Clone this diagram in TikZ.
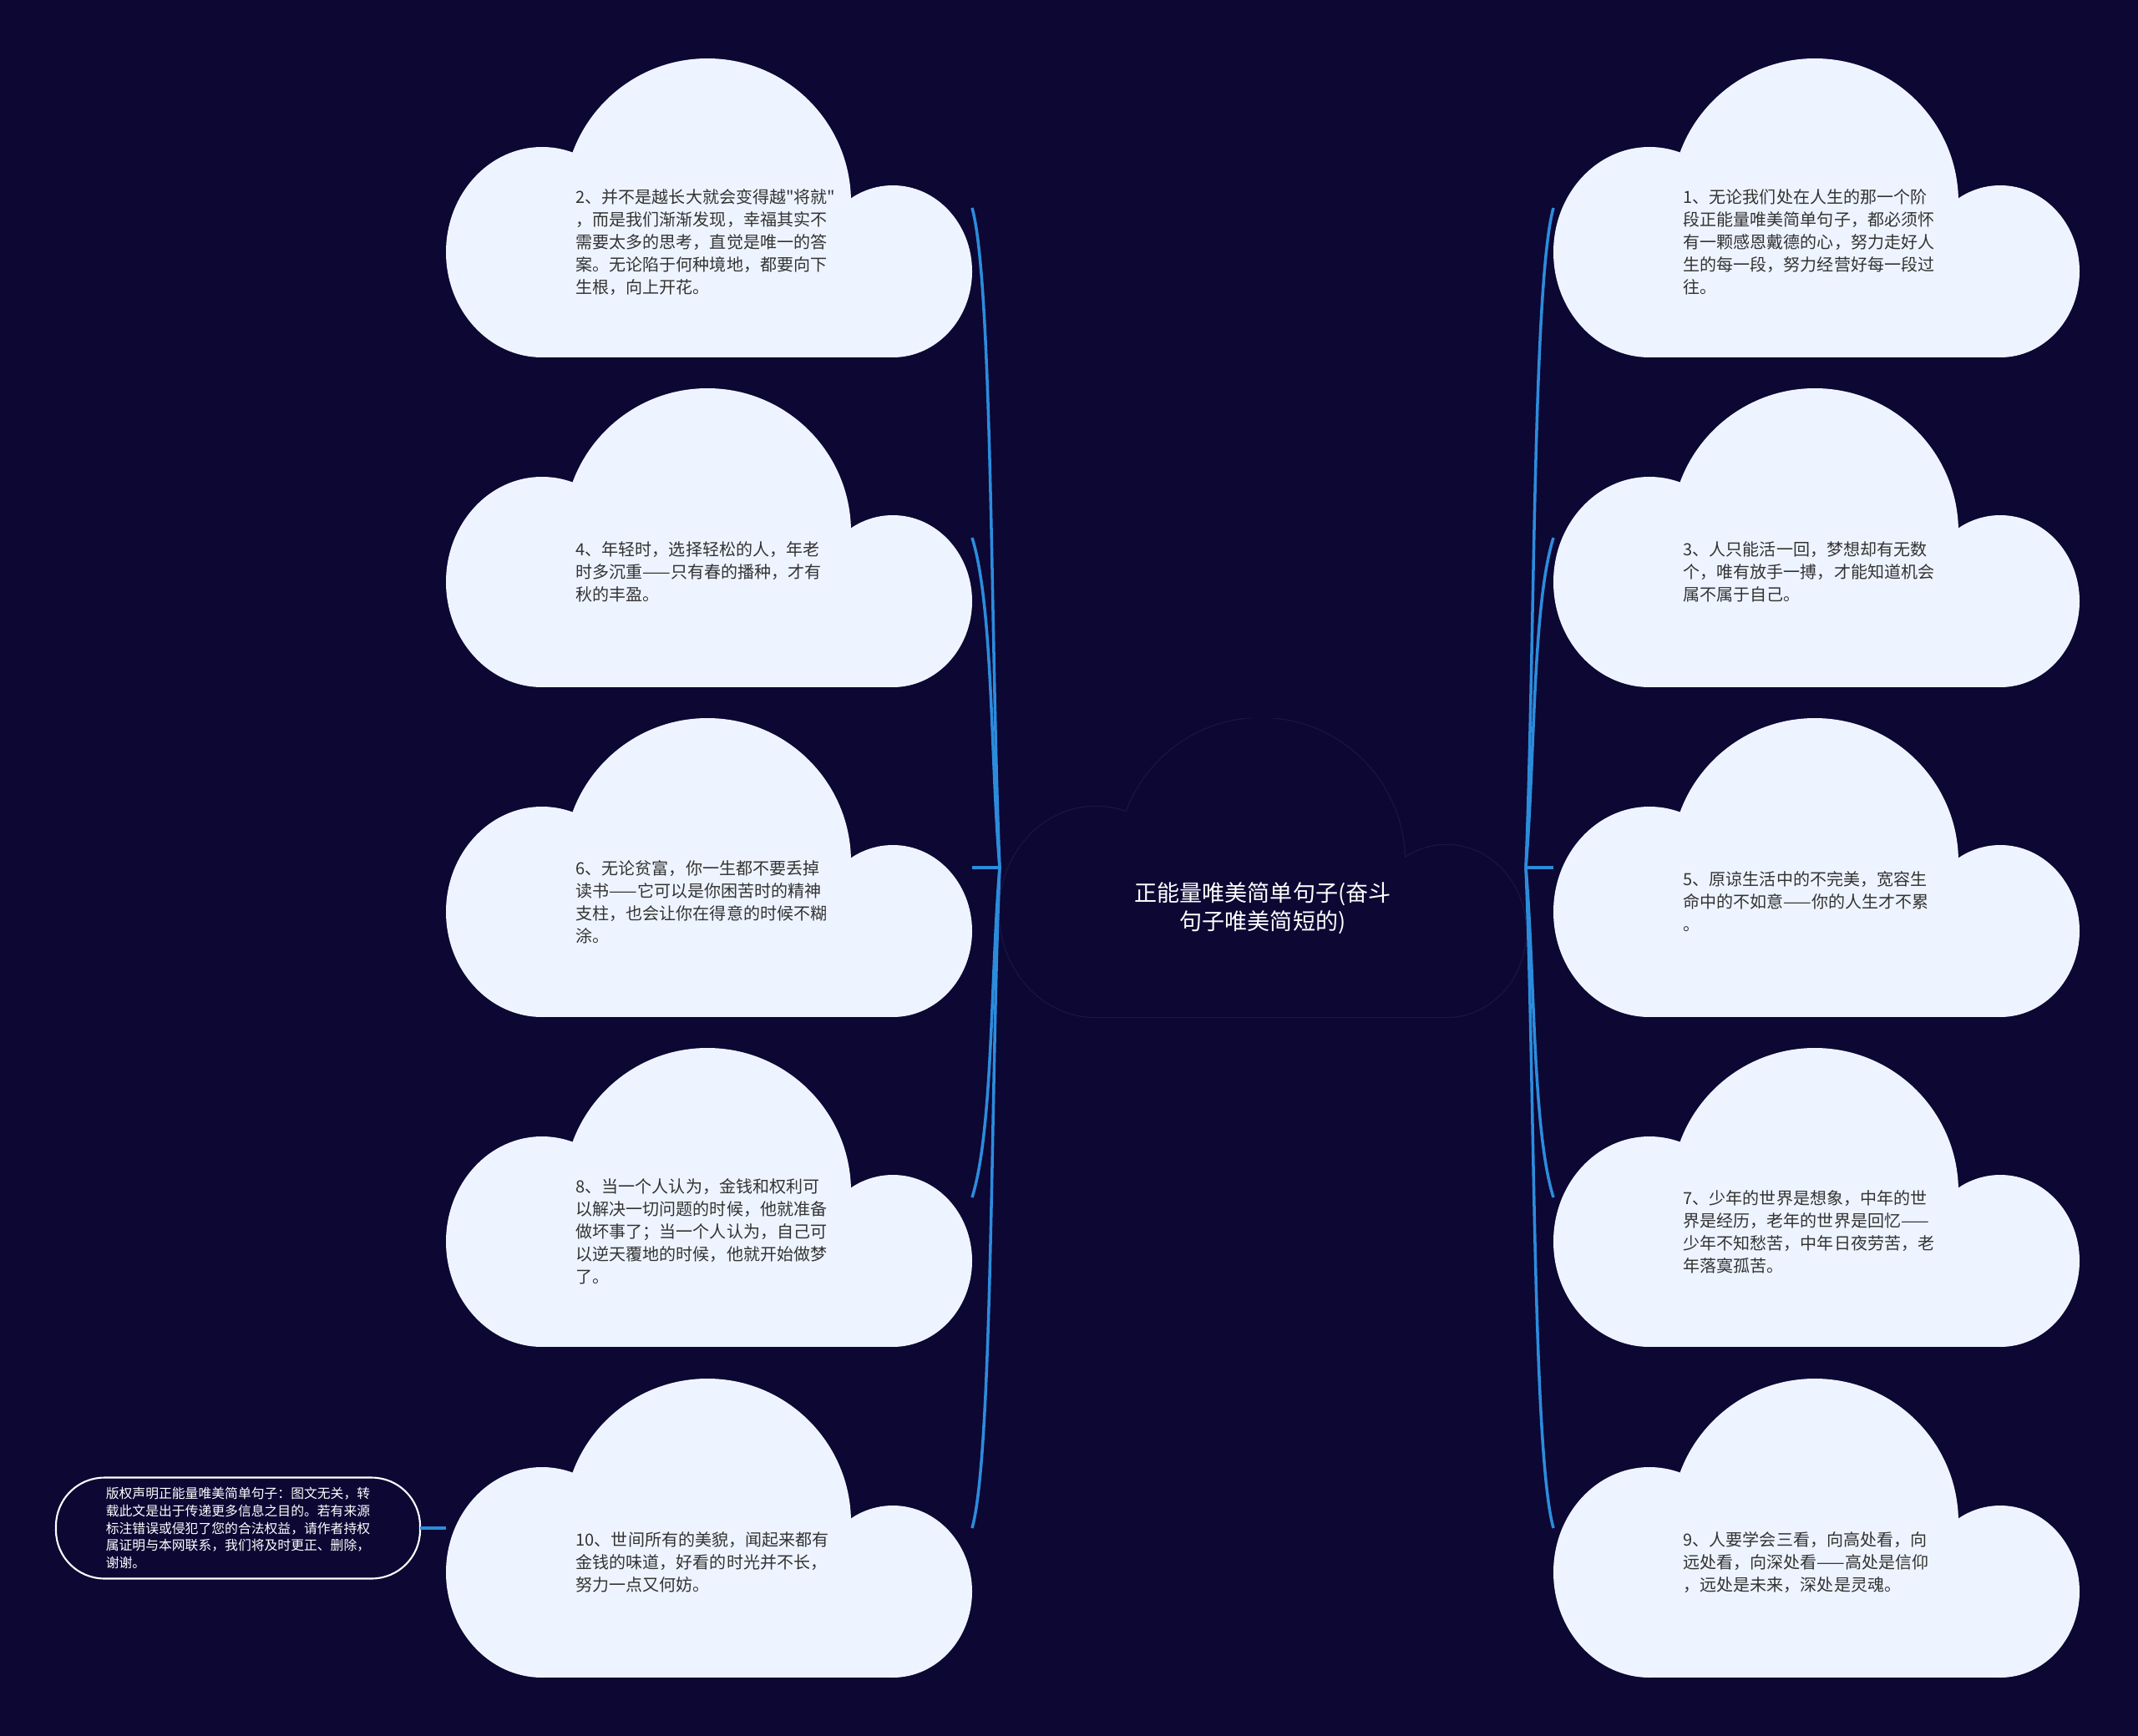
\documentclass[tikz,border=0pt]{standalone}
\usepackage{fontspec}
\setmainfont{Noto Sans CJK SC}
\definecolor{bgnavy}{HTML}{0C0733}
\definecolor{puffwhite}{HTML}{EEF4FF}
\definecolor{linkblue}{HTML}{2C8CDC}
\definecolor{midrim}{HTML}{1B1741}
\definecolor{inkgray}{HTML}{333333}
\tikzset{
  pics/puff/.style={code={
    \path[#1] (3.13,-1.72) circle[radius=1.72];
    \path[#1] (1.15,-2.32) ellipse[x radius=1.15, y radius=1.26];
    \path[#1] (5.35,-2.55) ellipse[x radius=0.95, y radius=1.03];
    \path[#1] (1.15,-2.40) rectangle (5.35,-3.58);
  }},
  cloudbox/.style={minimum width=6.3cm, minimum height=3.58cm, inner sep=0pt, outer sep=0pt,
    path picture={\pic at (path picture bounding box.north west) {puff={fill=puffwhite}};}},
  midbox/.style={minimum width=6.3cm, minimum height=3.58cm, inner sep=0pt, outer sep=0pt,
    path picture={\pic at (path picture bounding box.north west) {puff={draw=midrim, line width=0.7pt}};
                  \pic at (path picture bounding box.north west) {puff={fill=bgnavy}};}},
  saying/.style={anchor=west, text=inkgray, align=left, inner sep=0pt,
    font=\fontsize{5.7pt}{7.7pt}\selectfont},
  hubtext/.style={text=white, align=center, inner sep=0pt,
    font=\fontsize{7.7pt}{9.8pt}\selectfont},
  notice/.style={draw=white, line width=0.6pt, fill=bgnavy, text=white, align=left,
    rounded corners=0.58cm, minimum width=4.36cm, minimum height=1.17cm, outer sep=0pt,
    font=\fontsize{4.5pt}{5.9pt}\selectfont},
  link/.style={draw=linkblue, line width=1pt},
}
\begin{document}
\begin{tikzpicture}
    \useasboundingbox (0,0) rectangle (25.6,-20.79);
    \fill[bgnavy] (0,0) rectangle (25.6,-20.79);
    % centre
    \node[midbox] (mid) at (15.12,-10.39) {};
    \node[hubtext] (midtxt) at (15.12,-10.88) {正能量唯美简单句子(奋斗\\句子唯美简短的)};
    % left column
    \node[cloudbox] (l1) at (8.49,-2.49) {};
    \node[cloudbox] (l2) at (8.49,-6.44) {};
    \node[cloudbox] (l3) at (8.49,-10.39) {};
    \node[cloudbox] (l4) at (8.49,-14.34) {};
    \node[cloudbox] (l5) at (8.49,-18.30) {};
    \node[saying] (l1txt) at (6.89,-2.90) {2、并不是越长大就会变得越\textquotedbl 将就\textquotedbl\\，而是我们渐渐发现，幸福其实不\\需要太多的思考，直觉是唯一的答\\案。无论陷于何种境地，都要向下\\生根，向上开花。};
    \node[saying] (l2txt) at (6.89,-6.85) {4、年轻时，选择轻松的人，年老\\时多沉重——只有春的播种，才有\\秋的丰盈。};
    \node[saying] (l3txt) at (6.89,-10.80) {6、无论贫富，你一生都不要丢掉\\读书——它可以是你困苦时的精神\\支柱，也会让你在得意的时候不糊\\涂。};
    \node[saying] (l4txt) at (6.89,-14.75) {8、当一个人认为，金钱和权利可\\以解决一切问题的时候，他就准备\\做坏事了；当一个人认为，自己可\\以逆天覆地的时候，他就开始做梦\\了。};
    \node[saying] (l5txt) at (6.89,-18.71) {10、世间所有的美貌，闻起来都有\\金钱的味道，好看的时光并不长，\\努力一点又何妨。};
    % right column
    \node[cloudbox] (r1) at (21.75,-2.49) {};
    \node[cloudbox] (r2) at (21.75,-6.44) {};
    \node[cloudbox] (r3) at (21.75,-10.39) {};
    \node[cloudbox] (r4) at (21.75,-14.34) {};
    \node[cloudbox] (r5) at (21.75,-18.30) {};
    \node[saying] (r1txt) at (20.15,-2.90) {1、无论我们处在人生的那一个阶\\段正能量唯美简单句子，都必须怀\\有一颗感恩戴德的心，努力走好人\\生的每一段，努力经营好每一段过\\往。};
    \node[saying] (r2txt) at (20.15,-6.85) {3、人只能活一回，梦想却有无数\\个，唯有放手一搏，才能知道机会\\属不属于自己。};
    \node[saying] (r3txt) at (20.15,-10.80) {5、原谅生活中的不完美，宽容生\\命中的不如意——你的人生才不累\\。};
    \node[saying] (r4txt) at (20.15,-14.75) {7、少年的世界是想象，中年的世\\界是经历，老年的世界是回忆——\\少年不知愁苦，中年日夜劳苦，老\\年落寞孤苦。};
    \node[saying] (r5txt) at (20.15,-18.71) {9、人要学会三看，向高处看，向\\远处看，向深处看——高处是信仰\\，远处是未来，深处是灵魂。};
    % copyright note
    \node[notice] (note) at (2.85,-18.30) {版权声明正能量唯美简单句子：图文无关，转\\载此文是出于传递更多信息之目的。若有来源\\标注错误或侵犯了您的合法权益，请作者持权\\属证明与本网联系，我们将及时更正、删除，\\谢谢。};
    % links
    \draw[link] (mid.west) .. controls +(-0.11,2.63) and +(0.25,-0.9) .. (l1.east);
    \draw[link] (mid.west) .. controls +(-0.11,1.32) and +(0.25,-0.8) .. (l2.east);
    \draw[link] (mid.west) -- (l3.east);
    \draw[link] (mid.west) .. controls +(-0.11,-1.32) and +(0.25,0.8) .. (l4.east);
    \draw[link] (mid.west) .. controls +(-0.11,-2.64) and +(0.25,0.9) .. (l5.east);
    \draw[link] (mid.east) .. controls +(0.11,2.63) and +(-0.25,-0.9) .. (r1.west);
    \draw[link] (mid.east) .. controls +(0.11,1.32) and +(-0.25,-0.8) .. (r2.west);
    \draw[link] (mid.east) -- (r3.west);
    \draw[link] (mid.east) .. controls +(0.11,-1.32) and +(-0.25,0.8) .. (r4.west);
    \draw[link] (mid.east) .. controls +(0.11,-2.64) and +(-0.25,0.9) .. (r5.west);
    \draw[link] (l5.west) -- (note.east);
\end{tikzpicture}
\end{document}
